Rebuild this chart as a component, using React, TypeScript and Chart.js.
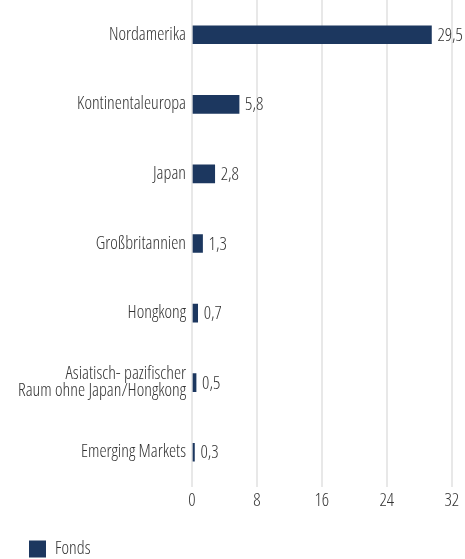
import React, { useEffect, useRef } from "react";
import { Chart, registerables } from "chart.js";

Chart.register(...registerables);

const categories: (string | string[])[] = [
  "Nordamerika",
  "Kontinentaleuropa",
  "Japan",
  "Großbritannien",
  "Hongkong",
  ["Asiatisch- pazifischer", "Raum ohne Japan/Hongkong"],
  "Emerging Markets",
];
const fondsValues = [29.5, 5.8, 2.8, 1.3, 0.7, 0.5, 0.3];
const seriesLabel = "Fonds";
const xTicks = [0, 8, 16, 24, 32];

const FONT = "'Open Sans', 'Roboto Condensed', sans-serif";
const FSIZE = 18;
const TEXT = "#333333";
const BAR = "#1c375f";

const condense = (chart: any) => {
  (chart.ctx as any).fontStretch = "condensed";
};

const condensedFont = {
  id: "condensedFont",
  beforeInit: condense,
  beforeUpdate: condense,
  beforeLayout: condense,
  beforeDraw: condense,
};

const valueLabels = {
  id: "valueLabels",
  afterDatasetsDraw(chart: any) {
    const ctx = chart.ctx;
    const meta = chart.getDatasetMeta(0);
    ctx.save();
    ctx.font = `300 ${FSIZE}px ${FONT}`;
    (ctx as any).fontStretch = "condensed";
    ctx.fillStyle = TEXT;
    ctx.textAlign = "left";
    ctx.textBaseline = "middle";
    meta.data.forEach((el: any, i: number) => {
      const v = fondsValues[i];
      ctx.fillText(v.toFixed(1).replace(".", ","), el.x + 6, el.y + 1);
    });
    ctx.restore();
  },
};

export default function App() {
  const ref = useRef<HTMLCanvasElement>(null);
  useEffect(() => {
    document.body.style.margin = "0";
    const chart = new Chart(ref.current!, {
      type: "bar",
      data: {
        labels: categories,
        datasets: [
          {
            label: seriesLabel,
            data: fondsValues,
            backgroundColor: BAR,
            borderWidth: 0,
            barThickness: 18,
          },
        ],
      },
      options: {
        indexAxis: "y",
        animation: false,
        responsive: false,
        layout: { padding: { left: 0, right: 13, top: 0, bottom: -9 } },
        scales: {
          x: {
            min: 0,
            max: 32,
            afterBuildTicks(scale: any) {
              scale.ticks = xTicks.map((v) => ({ value: v }));
            },
            afterFit(scale: any) {
              scale.height = 24;
            },
            grid: { color: "#e8e8e8", lineWidth: 2, drawTicks: false },
            border: { display: false },
            ticks: {
              color: TEXT,
              padding: 3,
              font: { family: FONT, size: FSIZE, weight: "300" },
            },
          },
          y: {
            afterFit(scale: any) {
              scale.width = 192;
              scale.paddingTop = 0;
              scale.paddingBottom = 0;
            },
            grid: { display: false, drawTicks: false },
            border: { display: false },
            ticks: {
              color: TEXT,
              padding: 6,
              font: { family: FONT, size: FSIZE, weight: "300", lineHeight: 0.95 },
            },
          },
        },
        plugins: {
          legend: {
            position: "bottom",
            align: "start",
            labels: {
              boxWidth: 17,
              boxHeight: 17,
              padding: 29,
              color: TEXT,
              font: { family: FONT, size: FSIZE, weight: "300" },
            },
          },
          tooltip: { enabled: false },
        },
      },
      plugins: [condensedFont, valueLabels],
    });
    return () => chart.destroy();
  }, []);
  return (
    <div style={{ width: 465, height: 559 }}>
      <canvas ref={ref} width={465} height={559} style={{ width: 465, height: 559, display: "block" }} />
    </div>
  );
}
